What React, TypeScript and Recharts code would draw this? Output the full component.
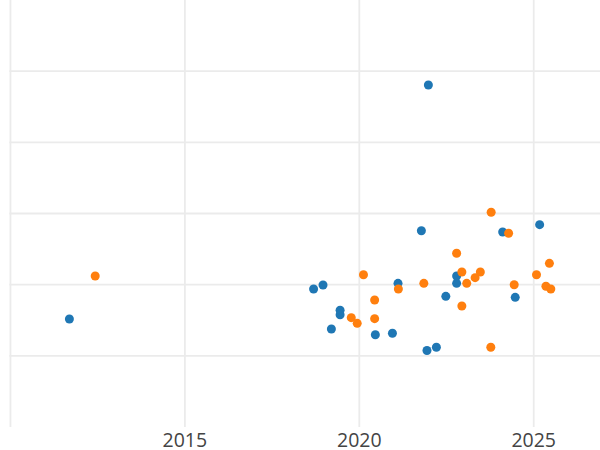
import { ScatterChart, Scatter, XAxis, YAxis, CartesianGrid, ReferenceLine } from "recharts";

// blue series: [year, value]
const blueYears = [
  2021.98, 2011.69, 2021.78, 2022.79, 2021.11, 2022.79, 2018.69, 2018.96, 2022.48, 2019.45,
  2019.45, 2019.2, 2020.46, 2020.95, 2021.94, 2022.21, 2024.11, 2025.17, 2024.47,
];
const blueValues = [
  4.805, 1.517, 2.758, 2.122, 2.019, 2.019, 1.939, 1.995, 1.836, 1.64,
  1.578, 1.377, 1.297, 1.317, 1.075, 1.12, 2.74, 2.843, 1.822,
];

// orange series
const orangeYears = [
  2012.43, 2023.78, 2024.28, 2022.79, 2025.45, 2022.94, 2023.47, 2023.32, 2020.12, 2021.12, 2021.85,
  2023.08, 2025.08, 2024.44, 2025.35, 2025.49, 2020.44, 2022.94, 2019.77, 2019.94, 2020.44, 2023.77,
];
const orangeValues = [
  2.122, 3.017, 2.722, 2.441, 2.3, 2.178, 2.178, 2.098, 2.14, 1.939, 2.019,
  2.019, 2.14, 1.999, 1.977, 1.939, 1.784, 1.7, 1.536, 1.457, 1.522, 1.12,
];

const xTicks = [2010, 2015, 2020, 2025];
const yTicks = [1, 2, 3, 4, 5];

const toPoints = (xs: number[], ys: number[]) => xs.map((x, i) => ({ x, y: ys[i] }));

const blueData = toPoints(blueYears, blueValues);
const orangeData = toPoints(orangeYears, orangeValues);

const Dot = (props: any) => {
  const { cx, cy, fill } = props;
  return <circle cx={cx} cy={cy} r={4.5} fill={fill} />;
};

const YearTick = (props: any) => {
  const { x, y, payload } = props;
  if (payload.value === 2010) return null;
  return (
    <text x={x} y={y} dy={12} textAnchor="middle" fill="#444" fontSize={19.5} fontFamily="Open Sans">
      {payload.value}
    </text>
  );
};

export default function App() {
  return (
    <div style={{ position: "absolute", left: 0, top: 0, background: "#fff" }}>
      <ScatterChart width={600} height={450} margin={{ top: 0, right: 0, bottom: 0, left: 9.4 }}>
        <CartesianGrid
          stroke="#ebebeb"
          strokeWidth={1.8}
          horizontalValues={yTicks}
          verticalValues={xTicks}
        />
        <XAxis
          type="number"
          dataKey="x"
          domain={[2009.97, 2026.9]}
          ticks={xTicks}
          axisLine={false}
          tickLine={false}
          height={23}
          tick={<YearTick />}
          allowDataOverflow
        />
        <YAxis type="number" dataKey="y" domain={[0, 6]} ticks={yTicks} hide />
        <ReferenceLine x={xTicks[0]} stroke="#ebebeb" strokeWidth={1.8} />
        <Scatter data={blueData} fill="#1f77b4" shape={<Dot />} isAnimationActive={false} />
        <Scatter data={orangeData} fill="#ff7f0e" shape={<Dot />} isAnimationActive={false} />
      </ScatterChart>
    </div>
  );
}
